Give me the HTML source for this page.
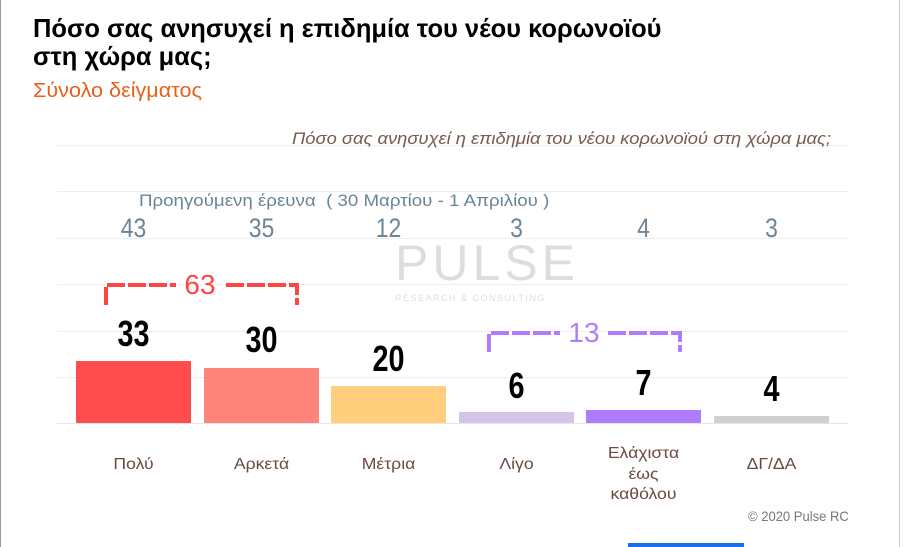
<!DOCTYPE html>
<html><head><meta charset="utf-8"><style>
body{margin:0;width:905px;height:547px;background:#fff;overflow:hidden;position:relative;font-family:"Liberation Sans","Noto Sans CJK SC",sans-serif}
.t{position:absolute;white-space:nowrap;transform-origin:left top}
.g{position:absolute;left:57px;width:791px;height:1px;background:#eee}
.bar{position:absolute;width:115px;bottom:124px}
.n{position:absolute;width:115px;text-align:center;font-weight:bold;font-size:36px;transform:scaleX(.8)}
.p{position:absolute;width:127px;text-align:center;font-size:27px;color:#6d8597;transform:scaleX(.85)}
.l{position:absolute;width:127px;text-align:center;font-size:16px;color:#6b4a40;line-height:20.5px;transform:scaleX(1.1)}
.b{position:absolute;width:100px;text-align:center;font-size:28px}
</style></head><body>
<div style="position:absolute;left:0;top:0;width:1px;height:547px;background:#999"></div>
<div style="position:absolute;left:899px;top:0;width:1px;height:547px;background:#ccc"></div>
<div class="t" style="left:33px;top:14px;font-size:26px;font-weight:bold;line-height:28px;transform:scaleX(.98)">Πόσο σας ανησυχεί η επιδημία του νέου κορωνοϊού<br>στη χώρα μας;</div>
<div class="t" style="left:33px;top:80px;font-size:20px;color:#e8601c;transform:scaleX(1.08)">Σύνολο δείγματος</div>
<div class="g" style="top:145px"></div><div class="g" style="top:191px"></div><div class="g" style="top:238px"></div><div class="g" style="top:284px"></div><div class="g" style="top:331px"></div><div class="g" style="top:377px"></div><div class="g" style="top:423px;background:#e6e6e6"></div>
<div class="t" style="left:292px;top:129px;font-size:17px;font-style:italic;color:#7a5a50;transform:scaleX(1.08)">Πόσο σας ανησυχεί η επιδημία του νέου κορωνοϊού στη χώρα μας;</div>
<div class="t" style="left:139px;top:191px;font-size:17px;color:#6a8496;transform:scaleX(1.1)">Προηγούμενη έρευνα &nbsp;( 30 Μαρτίου - 1 Απριλίου )</div>
<div style="position:absolute;left:395px;top:234px;font-size:50px;color:#ddd;letter-spacing:4px">PULSE</div>
<div style="position:absolute;left:395px;top:293px;font-size:9px;color:#ddd;letter-spacing:1.5px">RESEARCH &amp; CONSULTING</div>
<div class="p" style="left:70px;top:213px">43</div><div class="p" style="left:198px;top:213px">35</div><div class="p" style="left:325px;top:213px">12</div><div class="p" style="left:453px;top:213px">3</div><div class="p" style="left:580px;top:213px">4</div><div class="p" style="left:708px;top:213px">3</div>
<div class="bar" style="left:76px;height:62px;background:#ff4d4f"></div>
<div class="bar" style="left:204px;height:55px;background:#ff857a"></div>
<div class="bar" style="left:331px;height:37px;background:#ffcf7e"></div>
<div class="bar" style="left:459px;height:11px;background:#d3c4ea"></div>
<div class="bar" style="left:586px;height:13px;background:#b07cff"></div>
<div class="bar" style="left:714px;height:7px;background:#d0d0d0"></div>
<div class="n" style="left:76px;top:313px">33</div><div class="n" style="left:204px;top:319px">30</div><div class="n" style="left:331px;top:338px">20</div><div class="n" style="left:459px;top:365px">6</div><div class="n" style="left:586px;top:362px">7</div><div class="n" style="left:714px;top:368px">4</div>
<svg style="position:absolute;left:0;top:0" width="905" height="547">
<path d="M106 305V285H176M226 285H297V305" fill="none" stroke="#f44" stroke-width="4" stroke-dasharray="18 3"/>
<path d="M489 352V333H560M608 333H680V352" fill="none" stroke="#b07cff" stroke-width="4" stroke-dasharray="18 3"/>
</svg>
<div class="b" style="left:150px;top:269px;color:#f44">63</div>
<div class="b" style="left:534px;top:317px;color:#b07cff">13</div>
<div class="l" style="left:70px;top:455px">Πολύ</div><div class="l" style="left:198px;top:455px">Αρκετά</div><div class="l" style="left:325px;top:455px">Μέτρια</div><div class="l" style="left:453px;top:455px">Λίγο</div><div class="l" style="left:580px;top:444px">Ελάχιστα<br>έως<br>καθόλου</div><div class="l" style="left:708px;top:455px">ΔΓ/ΔΑ</div>
<div class="t" style="left:748px;top:508px;font-size:14px;color:#777;transform:scaleX(.93)">© 2020 Pulse RC</div>
<div style="position:absolute;left:628px;top:543px;width:116px;height:4px;background:#1a6fe8"></div>
</body></html>
